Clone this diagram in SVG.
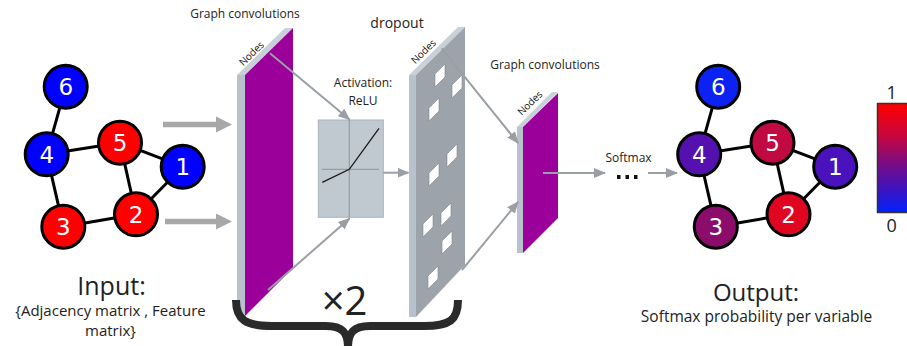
<svg xmlns="http://www.w3.org/2000/svg" width="907" height="346" viewBox="0 0 907 346">
<style>
.t{font-family:"Open Sans","Liberation Sans",sans-serif;fill:#222}
.num{font-family:"DejaVu Sans","Liberation Sans",sans-serif;font-size:23px;fill:#fff;text-anchor:middle}
.edge{stroke:#000;stroke-width:3}
.nd{stroke:#000;stroke-width:3}
.conn{stroke:#9a9fa5;stroke-width:2;fill:none}
.fat{stroke:#a8a8a8;stroke-width:5.5;fill:none}
.strip{fill:#b8c2cc}
.topf{fill:#c9d1d8}
.purple{fill:#9b009b}
.hole{fill:#fff;stroke:#7d848b;stroke-width:0.6}
.nodes{font-family:"Open Sans","Liberation Sans",sans-serif;font-size:10px;fill:#111;text-anchor:middle}
</style>
<defs>
<marker id="ah" markerWidth="12" markerHeight="10" refX="11" refY="5" orient="auto" markerUnits="userSpaceOnUse">
<path d="M0,0 L12,5 L0,10 Z" fill="#9a9fa5"/>
</marker>
<linearGradient id="cb" x1="0" y1="0" x2="0" y2="1">
<stop offset="0" stop-color="#ff0000"/>
<stop offset="0.3" stop-color="#c8063e"/>
<stop offset="0.55" stop-color="#7a0c84"/>
<stop offset="0.8" stop-color="#3a14c4"/>
<stop offset="1" stop-color="#0022ff"/>
</linearGradient>
</defs>
<rect width="907" height="346" fill="#fff"/>

<!-- Input graph -->
<g id="input-graph">
<g id="input-edges">
<line class="edge" x1="65.7" y1="86.7" x2="46.7" y2="154.3"/>
<line class="edge" x1="46.7" y1="154.3" x2="120" y2="142.7"/>
<line class="edge" x1="46.7" y1="154.3" x2="63.3" y2="226.7"/>
<line class="edge" x1="120" y1="142.7" x2="182.7" y2="166.7"/>
<line class="edge" x1="120" y1="142.7" x2="136" y2="214.3"/>
<line class="edge" x1="63.3" y1="226.7" x2="136" y2="214.3"/>
<line class="edge" x1="136" y1="214.3" x2="182.7" y2="166.7"/>
</g>
<g id="in-node-6"><circle class="nd" cx="65.7" cy="86.7" r="21.5" fill="#0000ff"/><text class="num" x="65.7" y="95">6</text></g>
<g id="in-node-4"><circle class="nd" cx="46.7" cy="154.3" r="21.5" fill="#0000ff"/><text class="num" x="46.7" y="162.6">4</text></g>
<g id="in-node-5"><circle class="nd" cx="120" cy="142.7" r="21.5" fill="#ff0000"/><text class="num" x="120" y="151">5</text></g>
<g id="in-node-1"><circle class="nd" cx="182.7" cy="166.7" r="21.5" fill="#0000ff"/><text class="num" x="182.7" y="175">1</text></g>
<g id="in-node-3"><circle class="nd" cx="63.3" cy="226.7" r="21.5" fill="#ff0000"/><text class="num" x="63.3" y="235">3</text></g>
<g id="in-node-2"><circle class="nd" cx="136" cy="214.3" r="21.5" fill="#ff0000"/><text class="num" x="136" y="222.6">2</text></g>
</g>
<g id="input-label">
<text class="t" x="111.5" y="295" font-size="25" text-anchor="middle">Input:</text>
<text class="t" x="110.5" y="316" font-size="15" text-anchor="middle">{Adjacency matrix , Feature</text>
<text class="t" x="110.5" y="336" font-size="15" text-anchor="middle">matrix}</text>
</g>

<!-- Graph conv 1 -->
<g id="graph-conv-1">
<text class="t" x="245" y="18" font-size="12" text-anchor="middle">Graph convolutions</text>
<rect class="strip" x="237" y="75" width="8" height="241"/>
<polygon class="topf" points="237,75 285,28 293,28 245,75"/>
<polygon class="purple" points="245,75 293,28 293,268 245,316"/>
<text class="nodes" transform="translate(251.5,53.5) rotate(-44)" y="3.5">Nodes</text>
</g>

<!-- Activation -->
<g id="activation">
<text class="t" x="363" y="86.7" font-size="12" text-anchor="middle">Activation:</text>
<text class="t" x="363" y="105" font-size="12" text-anchor="middle">ReLU</text>
<rect x="318.3" y="120" width="65" height="97.3" fill="#c0c8d0" stroke="#aab2ba" stroke-width="1"/>
<line x1="349.3" y1="120" x2="349.3" y2="217.3" stroke="#8e959c" stroke-width="1"/>
<line x1="322" y1="169.3" x2="379" y2="169.3" stroke="#8e959c" stroke-width="1"/>
<polyline points="322.3,182.3 349.3,169.3 379,128.3" fill="none" stroke="#1a1a1a" stroke-width="1.3"/>
</g>

<!-- Dropout -->
<g id="dropout">
<text class="t" x="397" y="28" font-size="14" text-anchor="middle">dropout</text>
<rect class="strip" x="409" y="75" width="7" height="242"/>
<polygon class="topf" points="409,75 458,27 465,27 416,75"/>
<polygon fill="#9ca3aa" points="416,75 465,27 465,265 416,317"/>
<g id="dropout-holes">
<polygon class="hole" points="435,74 445,64 445,77 435,87"/>
<polygon class="hole" points="452,85 462,75 462,88 452,98"/>
<polygon class="hole" points="429,108 439,98 439,111 429,121"/>
<polygon class="hole" points="447,154 457,144 457,157 447,167"/>
<polygon class="hole" points="429,173 439,163 439,176 429,186"/>
<polygon class="hole" points="441,213 451,203 451,216 441,226"/>
<polygon class="hole" points="423,224 433,214 433,227 423,237"/>
<polygon class="hole" points="442,241 452,231 452,244 442,254"/>
<polygon class="hole" points="428,276 438,266 438,279 428,289"/>
</g>
<text class="nodes" transform="translate(423.5,51.5) rotate(-44)" y="3.5">Nodes</text>
</g>

<!-- Graph conv 2 -->
<g id="graph-conv-2">
<text class="t" x="545" y="69" font-size="12" text-anchor="middle">Graph convolutions</text>
<rect class="strip" x="517" y="127" width="6" height="126"/>
<polygon class="topf" points="517,127 552,92 558,92 523,127"/>
<polygon class="purple" points="523,127 558,93 558,218 523,253"/>
<text class="nodes" transform="translate(530,103) rotate(-44)" y="3.5">Nodes</text>
</g>

<!-- Softmax -->
<g id="softmax">
<text class="t" x="628.5" y="162" font-size="12" text-anchor="middle">Softmax</text>
<rect x="617" y="175" width="3.5" height="4" fill="#111"/>
<rect x="625.5" y="175" width="3.5" height="4" fill="#111"/>
<rect x="634" y="175" width="3.5" height="4" fill="#111"/>
</g>

<!-- Connectors -->
<g id="connectors">
<line class="fat" x1="163" y1="124.5" x2="218" y2="124.5"/>
<polygon points="216,116.5 232,124.5 216,132.5" fill="#a8a8a8"/>
<line class="fat" x1="165" y1="221.5" x2="218" y2="221.5"/>
<polygon points="216,213.5 232,221.5 216,229.5" fill="#a8a8a8"/>
<line class="conn" x1="270" y1="53.3" x2="349.5" y2="119.5" marker-end="url(#ah)"/>
<line class="conn" x1="268" y1="290" x2="349.5" y2="218.5" marker-end="url(#ah)"/>
<line class="conn" x1="383.3" y1="172.7" x2="408.5" y2="172.7" marker-end="url(#ah)"/>
<line class="conn" x1="441.7" y1="48.3" x2="518" y2="143" marker-end="url(#ah)"/>
<line class="conn" x1="462" y1="270" x2="518" y2="202" marker-end="url(#ah)"/>
<line class="conn" x1="543" y1="173" x2="605" y2="173" marker-end="url(#ah)"/>
<line class="conn" x1="648" y1="173" x2="677" y2="173" marker-end="url(#ah)"/>
</g>

<!-- Brace -->
<g id="brace">
<path d="M236,300 C236,320 246,326 272,326 L326,326 C342,326 348,332 348,348 M348,348 C348,332 354,326 370,326 L424,326 C450,326 458,320 458,300" fill="none" stroke="#2a2a2a" stroke-width="8"/>
<text class="t" x="344.5" y="315" font-size="40" text-anchor="middle">×2</text>
</g>

<!-- Output graph -->
<g id="output-graph">
<g id="output-edges">
<line class="edge" x1="718.2" y1="86.7" x2="699.2" y2="154.3"/>
<line class="edge" x1="699.2" y1="154.3" x2="772.5" y2="142.7"/>
<line class="edge" x1="699.2" y1="154.3" x2="715.8" y2="226.7"/>
<line class="edge" x1="772.5" y1="142.7" x2="835.2" y2="166.7"/>
<line class="edge" x1="772.5" y1="142.7" x2="788.5" y2="214.3"/>
<line class="edge" x1="715.8" y1="226.7" x2="788.5" y2="214.3"/>
<line class="edge" x1="788.5" y1="214.3" x2="835.2" y2="166.7"/>
</g>
<g id="out-node-6"><circle class="nd" cx="718.2" cy="86.7" r="21.5" fill="#0b22f2"/><text class="num" x="718.2" y="95">6</text></g>
<g id="out-node-4"><circle class="nd" cx="699.2" cy="154.3" r="21.5" fill="#5511b0"/><text class="num" x="699.2" y="162.6">4</text></g>
<g id="out-node-5"><circle class="nd" cx="772.5" cy="142.7" r="21.5" fill="#c20a42"/><text class="num" x="772.5" y="151">5</text></g>
<g id="out-node-1"><circle class="nd" cx="835.2" cy="166.7" r="21.5" fill="#4a12bc"/><text class="num" x="835.2" y="175">1</text></g>
<g id="out-node-3"><circle class="nd" cx="715.8" cy="226.7" r="21.5" fill="#8c0c6c"/><text class="num" x="715.8" y="235">3</text></g>
<g id="out-node-2"><circle class="nd" cx="788.5" cy="214.3" r="21.5" fill="#e00520"/><text class="num" x="788.5" y="222.6">2</text></g>
</g>
<g id="output-label">
<text class="t" x="756" y="300.7" font-size="24" text-anchor="middle">Output:</text>
<text class="t" x="756.5" y="322" font-size="15.5" text-anchor="middle">Softmax probability per variable</text>
</g>

<!-- Colorbar -->
<g id="colorbar">
<rect x="877.5" y="103.5" width="34" height="109" fill="url(#cb)" stroke="#333" stroke-width="1.5"/>
<text class="t" x="891.7" y="99.3" font-size="18" text-anchor="middle">1</text>
<text class="t" x="891.7" y="231.7" font-size="18" text-anchor="middle">0</text>
</g>
</svg>
